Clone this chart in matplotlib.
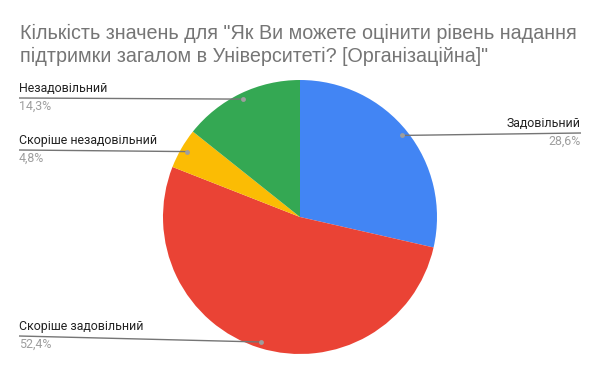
import matplotlib
matplotlib.use("Agg")
import matplotlib.pyplot as plt
import numpy as np

title = 'Кількість значень для "Як Ви можете оцінити рівень надання\nпідтримки загалом в Університеті? [Організаційна]"'
categories = ["Задовільний", "Скоріше задовільний", "Скоріше незадовільний", "Незадовільний"]
values = [6, 11, 1, 3]
percent_labels = ["28,6%", "52,4%", "4,8%", "14,3%"]
colors = ["#4285F4", "#EA4335", "#FBBC04", "#34A853"]

W, H = 600, 371
fig = plt.figure(figsize=(W / 100, H / 100), dpi=100)
ax = fig.add_axes([0, 0, 1, 1])
ax.set_xlim(0, W)
ax.set_ylim(0, H)
ax.set_aspect("equal", adjustable="box")
ax.axis("off")

cx, cy, r = 300, H - 217, 137
wedges, _ = ax.pie(values, colors=colors, startangle=90, counterclock=False,
                   center=(cx, cy), radius=r, wedgeprops=dict(linewidth=0))
ax.set_xlim(0, W)
ax.set_ylim(0, H)

lines = title.split("\n")
for line, base in zip(lines, [39, 62]):
    fig.text(20 / W, 1 - base / H, line, fontsize=14.2, color="#757575",
             family="Liberation Sans", va="baseline", ha="left")

# label placement (pixel coords): line y, side
label_line_y = [133, 336, 150, 98]
label_side = ["right", "left", "left", "left"]
left_x, right_x = 19, 581

for w, name, pct, ly, side in zip(wedges, categories, percent_labels, label_line_y, label_side):
    mid = np.deg2rad((w.theta1 + w.theta2) / 2)
    dx = cx + 0.955 * r * np.cos(mid)
    dy = cy + 0.955 * r * np.sin(mid)
    yl = H - ly
    ex = right_x if side == "right" else left_x
    ax.plot([dx, ex], [dy, yl], color="#757575", lw=1.0, solid_capstyle="butt", zorder=5)
    ax.plot([dx], [dy], "o", color="#9e9e9e", ms=3.5, zorder=6, mec="none")
    ha = "right" if side == "right" else "left"
    ax.text(ex, yl + 3, name, fontsize=8.9, family="Roboto", color="#222222",
            ha=ha, va="bottom")
    ax.text(ex, yl - 2, pct, fontsize=8.9, family="Roboto", color="#9e9e9e",
            ha=ha, va="top")

fig.savefig("out.png", dpi=100, facecolor="white")
